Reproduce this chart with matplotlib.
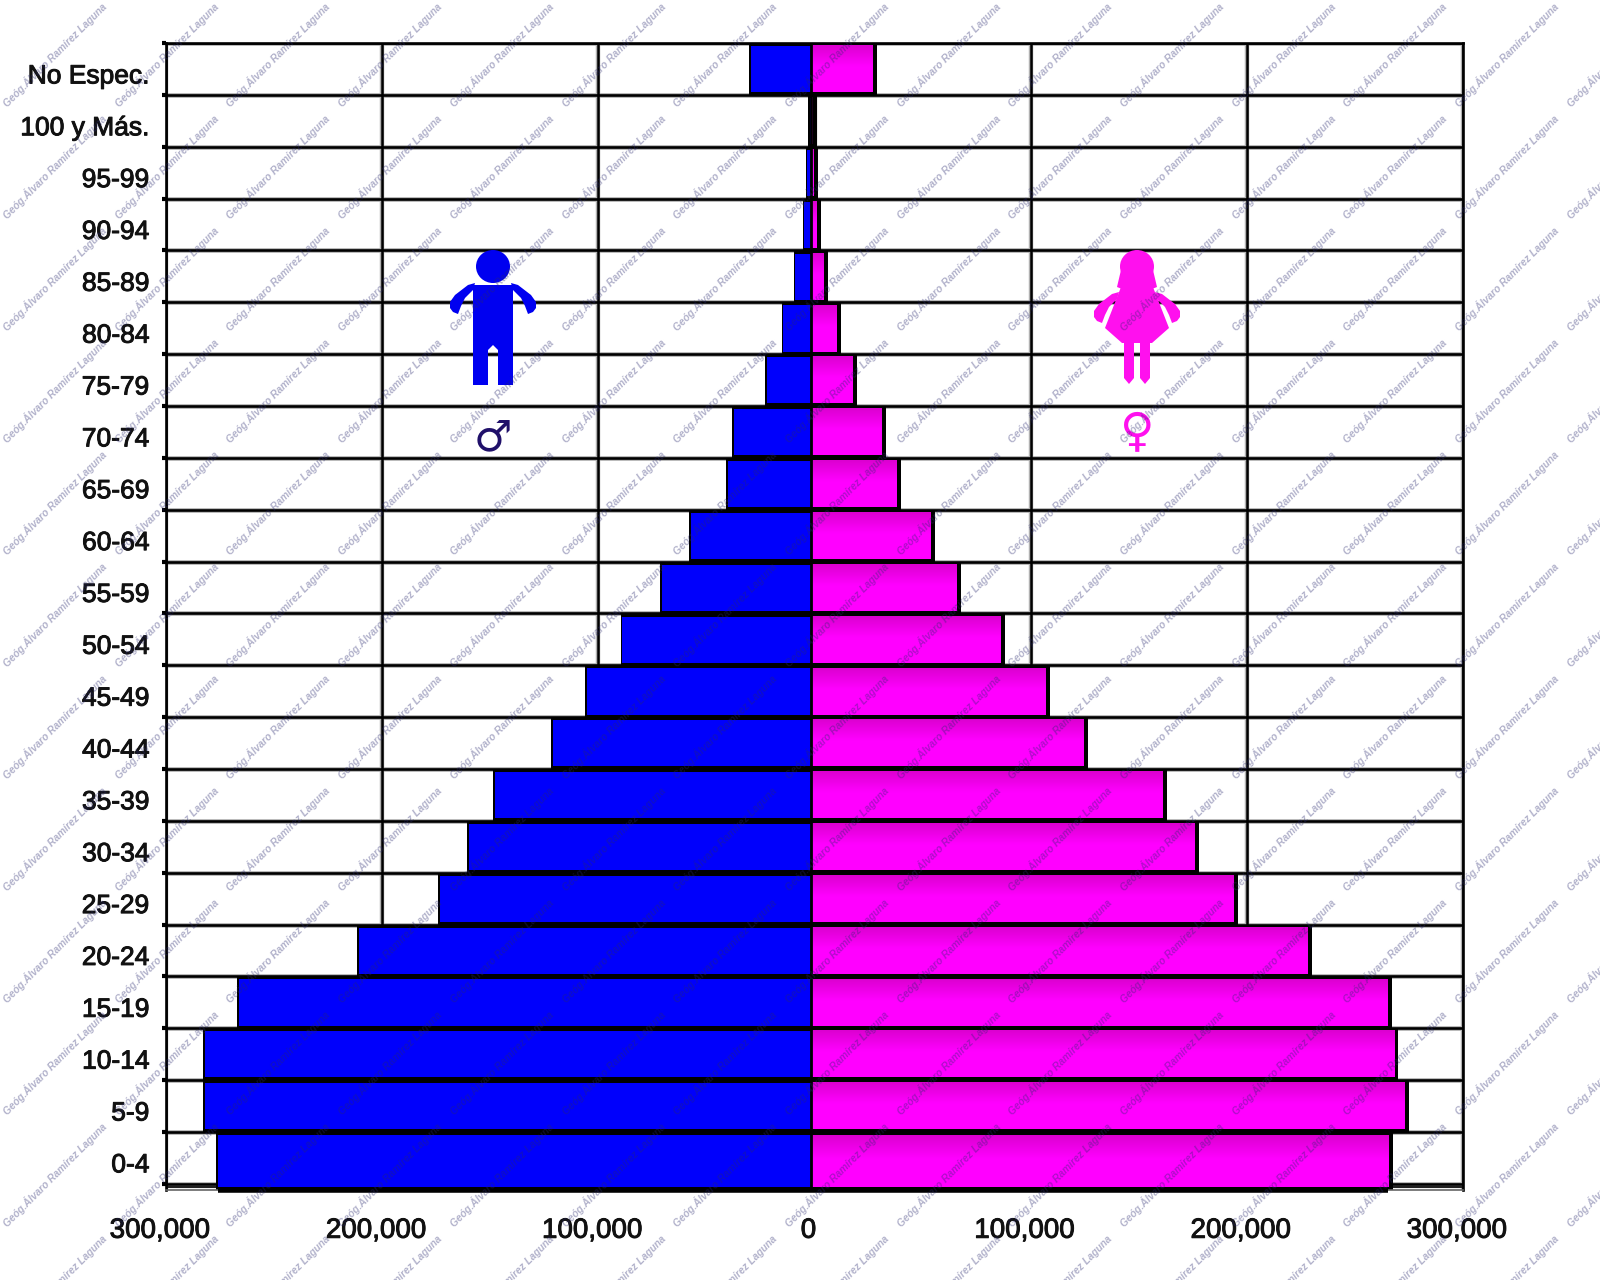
import matplotlib
matplotlib.use('Agg')
import matplotlib.pyplot as plt
import matplotlib.patheffects as pe
import matplotlib.transforms as mtrans
from matplotlib.colors import LinearSegmentedColormap
from matplotlib.patches import Ellipse, Polygon
import numpy as np

# bottom to top
ages = ['0-4', '5-9', '10-14', '15-19', '20-24', '25-29', '30-34', '35-39', '40-44', '45-49', '50-54',
        '55-59', '60-64', '65-69', '70-74', '75-79', '80-84', '85-89', '90-94', '95-99', '100 y Más.', 'No Espec.']
male = [274300, 280300, 280300, 264500, 209000, 171500, 158000, 146000, 119200, 103500, 87000,
        68800, 55300, 38300, 35500, 20300, 12500, 7000, 3000, 1600, 400, 27700]
female = [267000, 274400, 269700, 266500, 229600, 195300, 177200, 162700, 126200, 108700, 87700,
          67200, 55200, 39700, 32700, 19200, 11700, 5700, 2500, 1200, 500, 28400]
xticks = [-300000, -200000, -100000, 0, 100000, 200000, 300000]
watermark = 'Geóg.Álvaro Ramírez Laguna'

plt.rcParams['font.family'] = ['Liberation Sans', 'DejaVu Sans']

fig = plt.figure(figsize=(16, 12.8), dpi=100)
ax = fig.add_axes([166 / 1600, 1 - 1190 / 1280, 1297 / 1600, 1147 / 1280])

y = np.arange(len(ages), dtype=float)
ybot = -0.62  # lowest band is a bit taller in the original
zero = -1850  # the bars start slightly left of the 0 gridline
pink = LinearSegmentedColormap.from_list('pink', [(0, '#ff00ff'), (0.55, '#ff00ff'), (1, '#dc00d0')])
grad = np.linspace(0, 1, 64).reshape(-1, 1)

tops = y + 0.44
bots = y - 0.45
bots[0] = ybot + 0.06
out_bots = y - 0.5
out_bots[0] = ybot

# black shadow behind the bars, then the bars
ax.barh(out_bots, [-m - 700 for m in male], height=y + 0.5 - out_bots, left=zero, align='edge', color='black', zorder=2)
ax.barh(out_bots, [f + 2300 for f in female], height=y + 0.5 - out_bots, left=zero, align='edge', color='black', zorder=2)
ax.barh(bots, [-m for m in male], height=tops - bots, left=zero, align='edge', color='#0000fc', zorder=3)
for i, f in enumerate(female):
    ax.imshow(grad, extent=[zero, zero + f, bots[i], tops[i]], aspect='auto', cmap=pink, origin='lower', zorder=3)

ax.axvline(zero, color='black', lw=2, zorder=4)
ax.set_xlim(-300000, 300000)
ax.set_ylim(ybot, len(ages) - 0.5)
ax.set_xticks(xticks)
ax.set_xticklabels([f'{abs(v):,}' for v in xticks], fontsize=20, color='#111111')
ax.set_yticks(y)
ax.set_yticklabels(ages, fontsize=19, color='#111111')
ax.set_yticks(np.arange(-0.5, len(ages)), minor=True)
ax.grid(True, axis='x', color='black', lw=1.8, zorder=1)
ax.grid(True, axis='y', which='minor', color='black', lw=1.9, zorder=1)
ax.hlines(np.arange(-0.5, len(ages)), -300000, 300000, color='#b0b0b0', lw=3.4, zorder=0.5)
ax.vlines(xticks, ybot, len(ages) - 0.5, color='#b0b0b0', lw=3.2, zorder=0.5)
ax.hlines(ybot + 0.06, -300000, 300000, color='#222222', lw=1.5, zorder=1)
ax.set_axisbelow(True)
ax.tick_params(axis='y', which='major', length=0, pad=12)
ax.tick_params(axis='y', which='minor', length=3, width=3, color='black')
ax.tick_params(axis='x', length=0, pad=20)
for s in ax.spines.values():
    s.set_linewidth(1.9)
ax.spines['bottom'].set_linewidth(1.2)
ax.spines['bottom'].set_color('#666666')
# thick black base under the bars
ax.hlines(ybot, zero - male[0], zero + female[0], color='black', lw=4, zorder=4, clip_on=False)

shift_x = mtrans.ScaledTranslation(-6 / 100, 0, fig.dpi_scale_trans)
for t in ax.get_xticklabels():
    t.set_transform(t.get_transform() + shift_x)
    t.set_path_effects([pe.withStroke(linewidth=0.7, foreground='#111111')])
shift_y = mtrans.ScaledTranslation(0, -5 / 100, fig.dpi_scale_trans)
for t in ax.get_yticklabels():
    t.set_transform(t.get_transform() + shift_y)
    t.set_path_effects([pe.withStroke(linewidth=0.7, foreground='#111111')])

# overlay in pixel coordinates for pictograms and watermark
ov = fig.add_axes([0, 0, 1, 1], zorder=5)
ov.set_xlim(0, 1600)
ov.set_ylim(1280, 0)
ov.axis('off')
ov.patch.set_alpha(0)

BLUE = '#0000f0'
MAG = '#ff10ee'


def arm(cx, side, color, dy=0):
    pts = [(-18, 283), (-25, 285), (-38, 295), (-43, 302), (-43, 308), (-40, 312), (-35, 314), (-32, 306),
           (-28, 298), (-20, 290)]
    pts = [(cx + side * -px, py + dy) for px, py in pts]
    ov.add_patch(Polygon(pts, closed=True, color=color, lw=0))


# boy
cx = 493
ov.add_patch(Ellipse((cx, 266.5), 34, 33, color=BLUE, lw=0))
ov.add_patch(Polygon([(cx - 20, 285), (cx + 20, 285), (cx + 20, 385), (cx + 5, 385), (cx + 5, 350),
                      (cx, 345), (cx - 5, 350), (cx - 5, 385), (cx - 20, 385)], closed=True, color=BLUE, lw=0))
arm(cx, -1, BLUE)
arm(cx, 1, BLUE)
ov.text(cx, 439, '♂', fontsize=31, color='#20106a', ha='center', va='center', family='DejaVu Sans')

# girl
cx = 1137
ov.add_patch(Ellipse((cx, 266.5), 34, 33, color=MAG, lw=0))
ov.add_patch(Polygon([(cx - 16, 270), (cx + 16, 270), (cx + 20, 287), (cx + 15, 289), (cx - 15, 289), (cx - 20, 287)],
                     closed=True, color=MAG, lw=0))
ov.add_patch(Polygon([(cx - 14, 282), (cx + 14, 282), (cx + 32, 328), (cx + 15, 343), (cx - 15, 343),
                      (cx - 32, 328)], closed=True, color=MAG, lw=0))
ov.add_patch(Polygon([(cx - 13, 341), (cx - 3, 341), (cx - 3, 378), (cx - 8, 384), (cx - 13, 378)], closed=True, color=MAG, lw=0))
ov.add_patch(Polygon([(cx + 3, 341), (cx + 13, 341), (cx + 13, 378), (cx + 8, 384), (cx + 3, 378)], closed=True, color=MAG, lw=0))
arm(cx, -1, MAG, dy=9)
arm(cx, 1, MAG, dy=9)
ov.text(cx, 434, '♀', fontsize=34, color=MAG, ha='center', va='center', family='DejaVu Sans')

# watermark tiled over the whole picture
for wy in np.arange(109, 1400, 112):
    for wx in np.arange(9, 1600, 111.7):
        ov.text(wx, wy, watermark, fontsize=7.3, style='italic', weight='bold', color='#28286e', alpha=0.36,
                rotation=45, rotation_mode='anchor', ha='left', va='bottom', clip_on=True)

fig.savefig('out.png', dpi=100, facecolor='white')
